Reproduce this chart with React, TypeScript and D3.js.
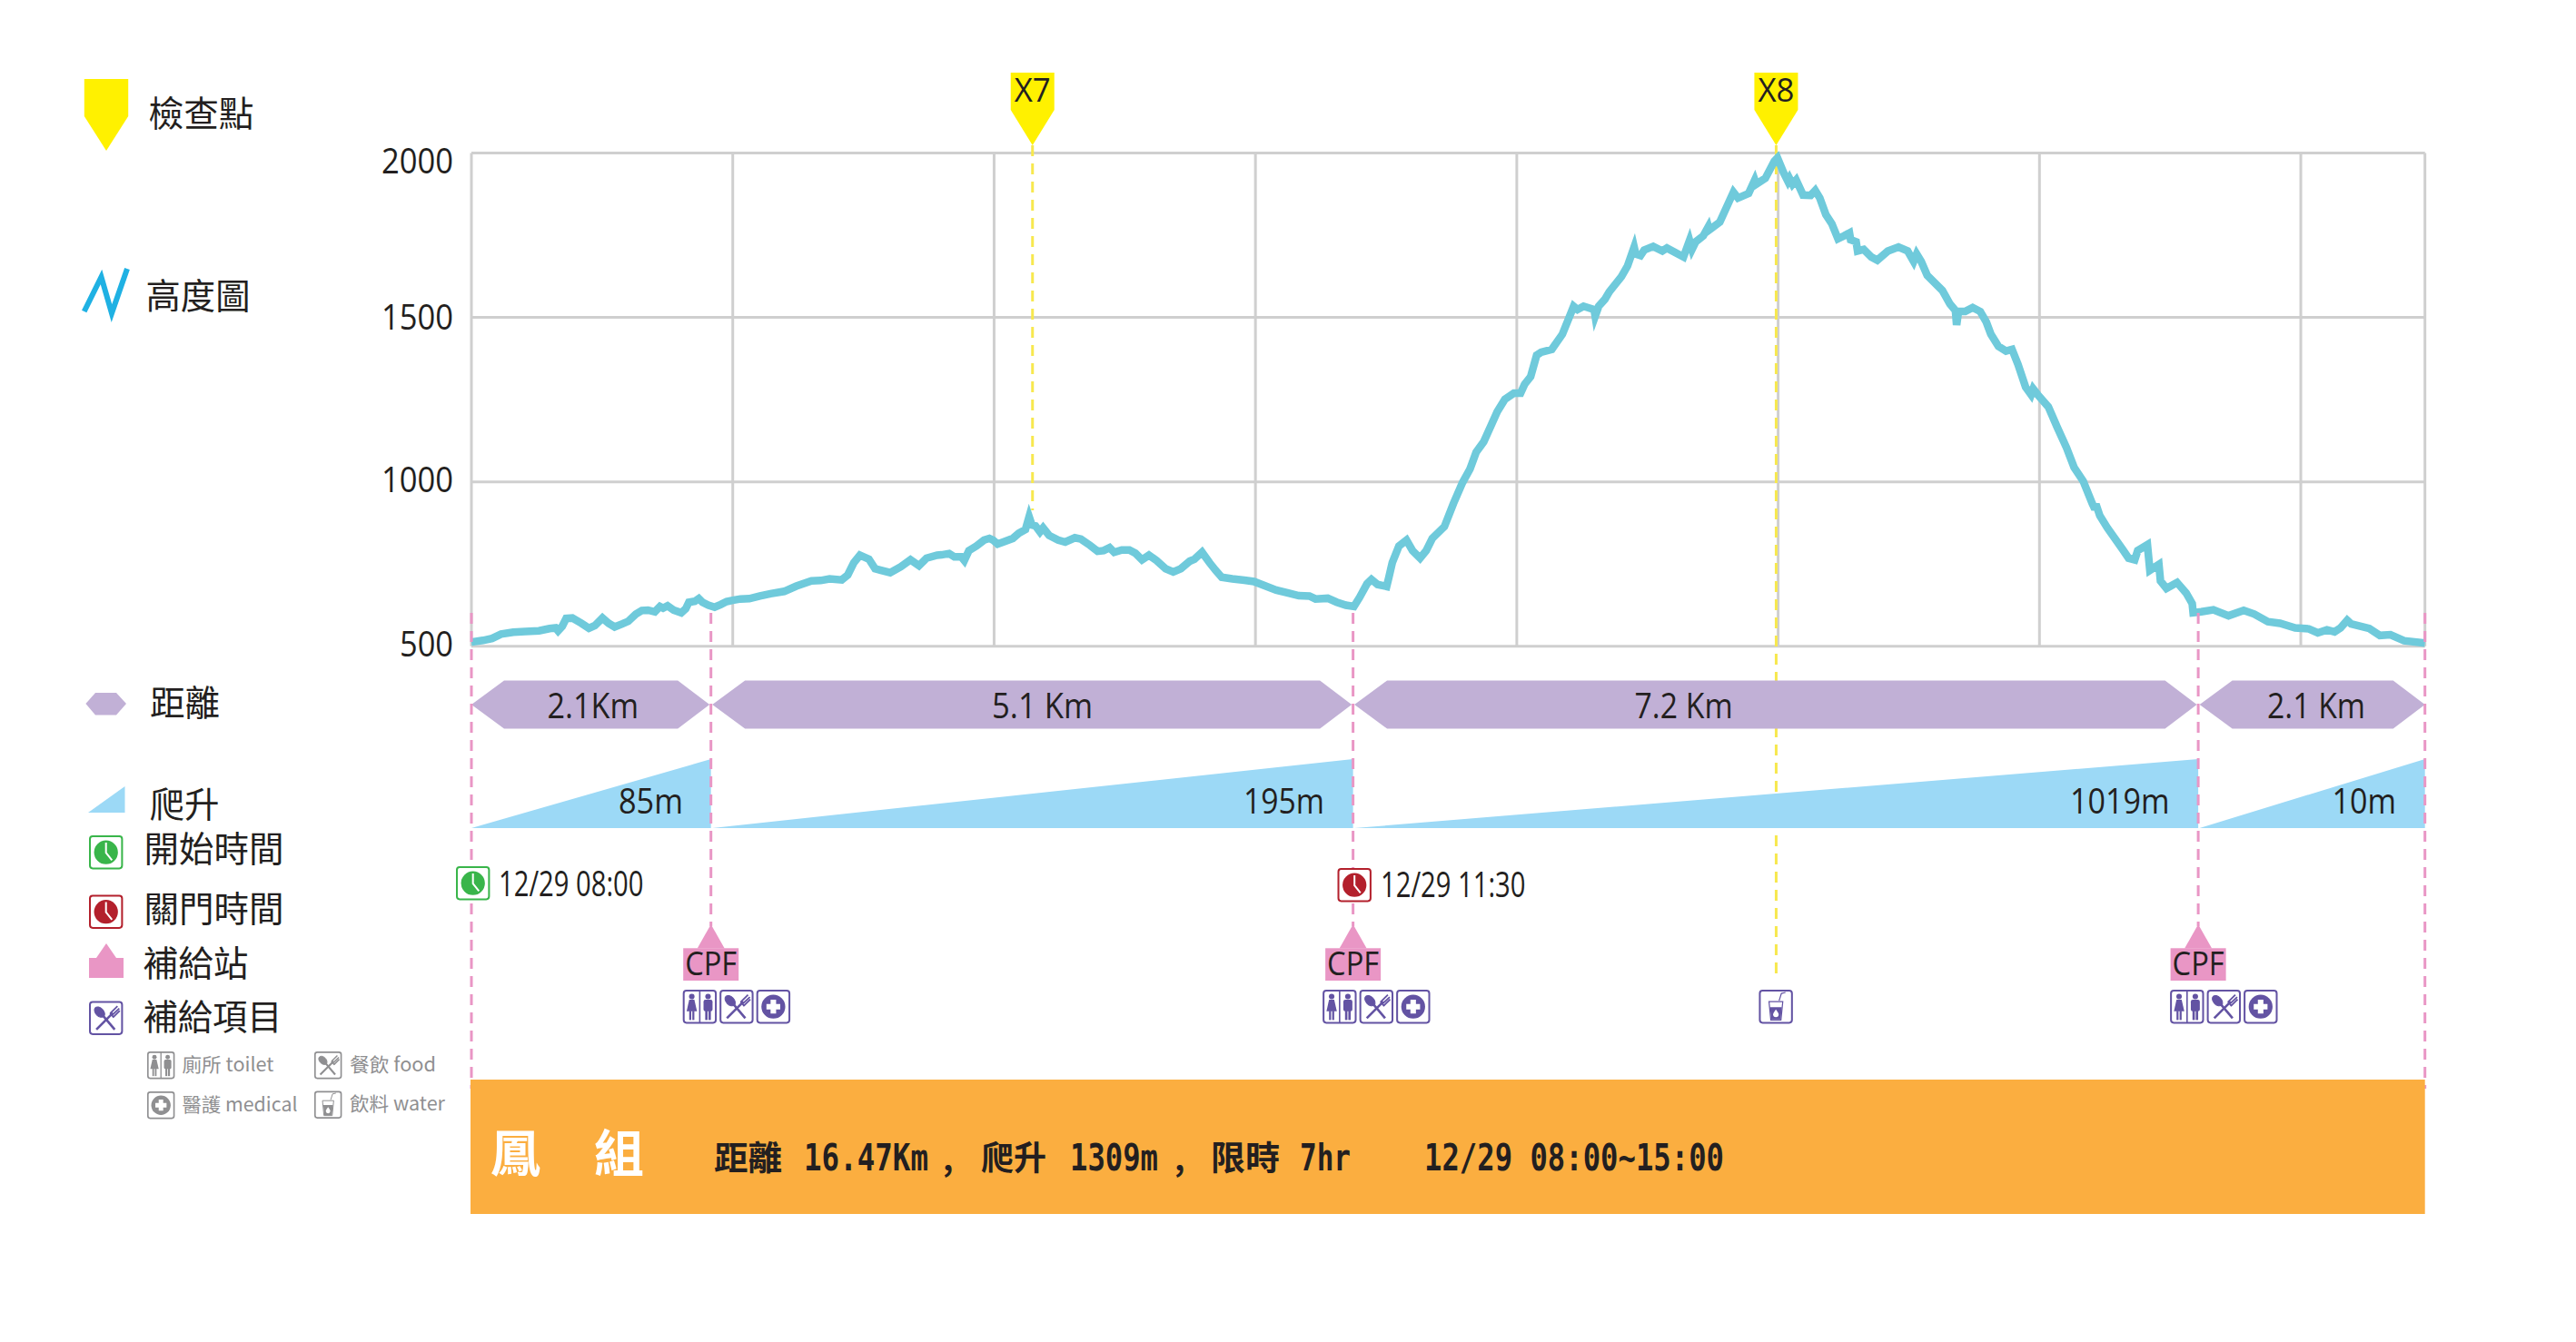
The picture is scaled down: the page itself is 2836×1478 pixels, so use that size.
import React from "react";
import * as d3 from "d3";

// ---- data ----
const profileKm = [0,.088,.158,.227,.32,.412,.517,.598,.644,.663,.695,.725,.772,.841,.899,.945,1.003,1.05,1.096,1.154,1.2,1.258,1.304,1.351,1.404,1.443,1.467,1.501,1.548,1.606,1.64,1.664,1.71,1.74,1.768,1.814,1.861,1.907,1.953,2,2.058,2.127,2.208,2.289,2.394,2.486,2.602,2.672,2.741,2.834,2.88,2.926,2.973,3.042,3.089,3.135,3.205,3.286,3.36,3.425,3.483,3.564,
3.598,3.656,3.696,3.749,3.772,3.807,3.865,3.923,3.964,3.992,4.027,4.097,4.143,4.189,4.24,4.268,4.289,4.317,4.351,4.375,4.421,4.49,4.544,4.618,4.664,4.734,4.792,4.838,4.884,4.919,4.977,5.035,5.081,5.132,5.185,5.243,5.313,5.371,5.429,5.498,5.533,5.591,5.649,5.695,5.742,5.823,5.915,5.989,6.066,6.159,6.251,6.332,6.413,6.46,6.553,6.622,6.692,6.754,6.796,6.854,6.888,6.935,7.004,7.02,
7.047,7.098,7.156,7.202,7.26,7.307,7.353,7.446,7.515,7.585,7.642,7.689,7.747,7.851,7.909,7.978,8.029,8.06,8.106,8.152,8.187,8.268,8.349,8.419,8.435,8.465,8.511,8.592,8.6,8.627,8.674,8.708,8.801,8.847,8.898,8.91,8.947,8.975,9.044,9.114,9.149,9.276,9.322,9.341,9.369,9.427,9.466,9.473,9.554,9.658,9.693,9.774,9.821,9.832,9.902,9.971,9.995,
10.041,10.075,10.087,10.11,10.138,10.191,10.249,10.284,10.319,10.365,10.411,10.458,10.504,10.546,10.555,10.597,10.608,10.655,10.713,10.759,10.84,10.921,10.991,11.037,11.06,11.095,11.141,11.257,11.315,11.357,11.366,11.38,11.431,11.489,11.547,11.593,11.628,11.686,11.744,11.79,11.836,11.894,11.936,11.952,11.987,12.068,12.138,12.207,12.265,12.335,12.404,
12.416,12.439,12.462,12.52,12.636,12.682,12.729,12.752,12.826,12.835,12.845,12.914,12.926,12.972,13.053,13.123,13.169,13.176,13.238,13.331,13.447,13.563,13.644,13.748,13.841,13.957,14.061,14.13,14.2,14.258,14.304,14.355,14.385,14.524,14.605,14.686,14.79,14.95];
const profileElevation = [513,518,524,537,543,545,547,554,556,547,561,585,586,570,555,563,586,570,559,568,576,598,609,610,605,621,616,623,610,602,614,634,637,645,634,625,619,627,636,640,644,645,653,660,667,683,699,700,705,702,717,754,777,765,736,731,724,742,763,745,768,777,
778,782,772,772,761,791,805,823,828,823,811,821,828,844,855,894,869,866,848,860,837,823,817,830,826,807,789,791,800,786,793,793,783,763,777,761,736,726,736,759,765,786,754,731,710,705,701,697,685,671,662,654,653,644,646,634,625,621,648,690,703,688,682,708,
754,805,823,791,768,791,828,864,934,998,1039,1090,1122,1214,1251,1270,1270,1297,1320,1385,1394,1403,1449,1518,1534,1524,1534,1524,1504,1534,1555,1578,1624,1656,1714,1693,1688,1705,1716,1702,1711,1684,1734,1707,1730,1748,1776,1766,1790,1881,1863,1877,1918,1905,1923,1975,1985,
1941,1914,1923,1905,1918,1872,1871,1886,1863,1813,1785,1739,1748,1757,1736,1730,1702,1707,1684,1674,1702,1714,1702,1670,1693,1670,1628,1582,1541,1521,1477,1518,1518,1530,1518,1486,1449,1412,1398,1403,1357,1288,1265,1283,1265,1228,1164,1104,1044,1002,934,
924,924,897,860,795,768,763,791,809,772,731,749,699,676,694,662,630,602,605,611,593,609,598,575,570,556,553,541,550,544,556,579,568,554,533,535,517,510];
const elevationTicks = [2000, 1500, 1000, 500];
const gridKm = [2, 4, 6, 8, 10, 12, 14];
const stationKm = [0, 1.833, 6.747, 13.215, 14.95];
const distanceLabels = ["2.1Km", "5.1 Km", "7.2 Km", "2.1 Km"];
const climbLabels = ["85m", "195m", "1019m", "10m"];
const checkpoints = [{ name: "X7", km: 4.294 }, { name: "X8", km: 9.985 }];
const supplyKm = [1.833, 6.747, 13.215];
const waterKm = 9.985;
const startLabel = "12/29 08:00";
const closeLabel = "12/29 11:30";

const x = d3.scaleLinear().domain([0, 14.95]).range([519, 2669.7]);
const y = d3.scaleLinear().domain([500, 2000]).range([711.8, 168.5]);

const C = {
  ink: "#231f20", grid: "#cfcfcf", line: "#6fcadb", pink: "#e996c5", yellow: "#fff100", dashY: "#f7e84e",
  purple: "#c1b0d6", blue: "#9cd9f6", orange: "#fbae40", green: "#39b54a", red: "#b3202c", violet: "#6353a3", gray: "#8f8f91",
};
const CJK = "'Noto Sans CJK TC', sans-serif";
const LAT = "'Open Sans', 'Noto Sans', sans-serif";
const MONO = "'DejaVu Sans Mono', monospace";

function T({ x: tx, y: ty, w, size = 39, fill = C.ink, family = LAT, weight = 400, children, anchor = "start" }: any) {
  return (
    <text x={tx} y={ty} fontSize={size} fill={fill} fontFamily={family} fontWeight={weight} textAnchor={anchor}
      textLength={w} lengthAdjust={w ? "spacingAndGlyphs" : undefined}>
      {children}
    </text>
  );
}

// condensed monospaced run: squeezed to width w with a horizontal scale
function M({ x: tx, y: ty, w, size = 41, children }: any) {
  const natural = String(children).length * 0.602 * size;
  return (
    <text transform={`translate(${tx},${ty}) scale(${w / natural},1)`} fontSize={size} fill={C.ink} fontFamily={MONO} fontWeight={700}>
      {children}
    </text>
  );
}

function Glyph({ kind, color }: any) {
  if (kind === "clock")
    return (<g><circle cx={18.5} cy={18.5} r={13} fill={color} />
      <path d="M18.5 8 V19 L25 27" fill="none" stroke="#fff" strokeWidth={2} /></g>);
  if (kind === "toilet")
    return (<g fill={color}>
      <line x1={18.5} y1={1} x2={18.5} y2={36} stroke={color} strokeWidth={1.6} />
      <circle cx={9.8} cy={7.5} r={3} />
      <path d="M7 11 H12.6 L15.5 23.5 H4.2 Z" />
      <rect x={7} y={23} width={2.2} height={10} /><rect x={10.4} y={23} width={2.2} height={10} />
      <circle cx={27.5} cy={7.5} r={3} />
      <rect x={22.6} y={11} width={9.8} height={12.5} rx={2} />
      <rect x={24.4} y={22} width={2.6} height={11} /><rect x={28} y={22} width={2.6} height={11} />
    </g>);
  if (kind === "food")
    return (<g fill={color} stroke={color}>
      <ellipse cx={11.5} cy={12} rx={4.4} ry={6.6} transform="rotate(-45 11.5 12)" />
      <line x1={14} y1={14.5} x2={28} y2={31} strokeWidth={2.6} />
      <line x1={8} y1={31} x2={26} y2={13} strokeWidth={2.6} />
      <path d="M23 13.5 L31 5.5 M25 15.5 L33 8 M26.5 17.5 L33.5 10.5 M23 13 L27 18" strokeWidth={1.8} fill="none" />
    </g>);
  if (kind === "medical")
    return (<g><circle cx={18.5} cy={18.5} r={13} fill={color} />
      <path d="M15.5 11 H21.5 V15.5 H26 V21.5 H21.5 V26 H15.5 V21.5 H11 V15.5 H15.5 Z" fill="#fff" /></g>);
  return (<g>
    <path d="M11 13 H26 L24 33 H13 Z" fill="none" stroke={color} strokeWidth={1.2} />
    <path d="M12 19 H25 L23.6 32.5 H13.4 Z" fill={color} />
    <path d="M22 12 L24.5 4 L29 3" fill="none" stroke={color} strokeWidth={1.2} />
    <path d="M18.5 21.5 C21 25 21.5 26 21.5 27 A3 3 0 0 1 15.5 27 C15.5 26 16 25 18.5 21.5 Z" fill="#fff" />
  </g>);
}

function Icon({ kind, x: ix, y: iy, s = 37.4, color = C.violet }: any) {
  return (
    <g transform={`translate(${ix},${iy}) scale(${s / 37})`}>
      <rect x={1} y={1} width={35} height={35} rx={3} fill="#fff" stroke={color} strokeWidth={2} />
      <Glyph kind={kind} color={color} />
    </g>
  );
}

const flagPath = (cx: number, top: number, sh: number, tip: number, hw: number) =>
  `M${cx - hw} ${top} H${cx + hw} V${sh} L${cx} ${tip} L${cx - hw} ${sh} Z`;

export default function App() {
  const line = d3.line<number>().x((k) => x(k)).y((_, i) => y(profileElevation[i]));
  const tickShift = (v: number) => (v === 2000 ? 22 : v === 1500 ? 13 : 11.5);
  const xs = stationKm.map((k) => x(k));
  const iconShift = [-31, -33.5, -31];
  return (
    <svg width={2836} height={1478} viewBox="0 0 2836 1478" style={{ position: "absolute", left: 0, top: 0, display: "block", background: "#fff" }}>
      {/* grid */}
      <g stroke={C.grid} strokeWidth={3} fill="none">
        {elevationTicks.map((v) => <line key={v} x1={x(0)} x2={x(14.95)} y1={y(v)} y2={y(v)} />)}
        {[0, ...gridKm, 14.95].map((k) => <line key={k} x1={x(k)} x2={x(k)} y1={y(2000)} y2={y(500)} />)}
      </g>
      {elevationTicks.map((v) => (
        <T key={v} x={499} y={y(v) + tickShift(v)} anchor="end" w={v === 500 ? 59 : 79}>{v}</T>
      ))}

      {/* checkpoint dashes sit behind the bands */}
      <line x1={x(checkpoints[0].km)} x2={x(checkpoints[0].km)} y1={160} y2={562} stroke={C.dashY} strokeWidth={3} strokeDasharray="12 8" />
      <line x1={x(checkpoints[1].km)} x2={x(checkpoints[1].km)} y1={160} y2={1080} stroke={C.dashY} strokeWidth={3} strokeDasharray="12 8" />

      {/* elevation */}
      <path d={line(profileKm) as string} fill="none" stroke={C.line} strokeWidth={8.5} strokeLinejoin="miter" strokeMiterlimit={5} />

      {/* distance bands */}
      {distanceLabels.map((_, i) => {
        const a = xs[i] + (i ? 1.5 : 0), b = xs[i + 1] - (i < 3 ? 1.5 : 0);
        return <path key={i} fill={C.purple} d={`M${a} 776 L${a + 36} 749.5 H${b - 35} L${b} 776 L${b - 35} 802.5 H${a + 36} Z`} />;
      })}
      <T x={602.5} y={790.5} w={100.5}>{distanceLabels[0]}</T>
      <T x={1092} y={790.5} w={111}>{distanceLabels[1]}</T>
      <T x={1799.6} y={790.5} w={108}>{distanceLabels[2]}</T>
      <T x={2496} y={790.5} w={108}>{distanceLabels[3]}</T>

      {/* climb wedges */}
      {climbLabels.map((_, i) => {
        const a = xs[i] + (i ? 1.5 : 0), b = xs[i + 1];
        return <path key={i} fill={C.blue} d={`M${a} 912 L${b} 836 V912 Z`} />;
      })}
      <T x={681} y={896} w={71}>{climbLabels[0]}</T>
      <T x={1369} y={896} w={89}>{climbLabels[1]}</T>
      <T x={2279} y={896} w={109.5}>{climbLabels[2]}</T>
      <T x={2567.5} y={896} w={70.5}>{climbLabels[3]}</T>

      {/* station dashes */}
      <g stroke={C.pink} strokeWidth={3} strokeDasharray="12 8" fill="none">
        <line x1={xs[0]} x2={xs[0]} y1={675} y2={1199} />
        <line x1={xs[1]} x2={xs[1]} y1={675} y2={1020} />
        <line x1={xs[2]} x2={xs[2]} y1={675} y2={1020} />
        <line x1={xs[3]} x2={xs[3]} y1={675} y2={1020} />
        <line x1={xs[4]} x2={xs[4]} y1={675} y2={1199} />
      </g>

      {/* checkpoints */}
      {checkpoints.map((c) => (
        <g key={c.name}>
          <path d={flagPath(x(c.km), 80, 121, 160, 24)} fill={C.yellow} />
          <T x={x(c.km)} y={112} size={37} anchor="middle" w={40}>{c.name}</T>
        </g>
      ))}

      {/* times */}
      <Icon kind="clock" x={502} y={954} color={C.green} />
      <T x={549} y={987} size={38} w={159.5}>{startLabel}</T>
      <Icon kind="clock" x={1472.5} y={956} color={C.red} />
      <T x={1520} y={988} size={38} w={159.5}>{closeLabel}</T>

      {/* supply stations */}
      {supplyKm.map((k, i) => {
        const cx = x(k);
        return (
          <g key={k}>
            <path d={`M${cx} 1018 L${cx + 15} 1044.5 H${cx - 15} Z`} fill={C.pink} />
            <rect x={cx - 30.5} y={1044.3} width={61} height={35.7} fill={C.pink} />
            <T x={cx} y={1074} size={37} anchor="middle" w={57}>CPF</T>
            <Icon kind="toilet" x={cx + iconShift[i]} y={1090} />
            <Icon kind="food" x={cx + iconShift[i] + 40.5} y={1090} />
            <Icon kind="medical" x={cx + iconShift[i] + 81} y={1090} />
          </g>
        );
      })}
      <Icon kind="water" x={x(waterKm) - 19} y={1090} />

      {/* footer band */}
      <rect x={x(0) - 1} y={1189} width={x(14.95) - x(0) + 1} height={148} fill={C.orange} />
      <T x={540} y={1290} size={55} fill="#fff" family={CJK} weight={700}>鳳</T>
      <T x={654} y={1290} size={55} fill="#fff" family={CJK} weight={700}>組</T>
      <T x={786} y={1289} size={37} family={CJK} weight={700} w={75}>距離</T>
      <M x={885} y={1289} w={137}>16.47Km</M>
      <T x={1038} y={1289} size={35} family={CJK} weight={700}>,</T>
      <T x={1080} y={1289} size={37} family={CJK} weight={700} w={72}>爬升</T>
      <M x={1178} y={1289} w={97}>1309m</M>
      <T x={1293} y={1289} size={35} family={CJK} weight={700}>,</T>
      <T x={1333} y={1289} size={37} family={CJK} weight={700} w={76}>限時</T>
      <M x={1431} y={1289} w={56}>7hr</M>
      <M x={1568} y={1289} w={330}>12/29 08:00~15:00</M>

      {/* legend */}
      <path d={flagPath(117, 87, 128, 166, 24.2)} fill={C.yellow} />
      <T x={163.5} y={139} size={38.5} family={CJK} w={116}>檢查點</T>
      <path d="M92.7 343 L111.5 305 L123 345 L140 296" fill="none" stroke="#1fb1e3" strokeWidth={6} strokeMiterlimit={8} />
      <T x={160.5} y={340} size={38.5} family={CJK} w={115}>高度圖</T>

      <path d="M94.4 775 L105 763 H128 L139 775 L128 787.5 H105 Z" fill={C.purple} />
      <T x={165} y={788} size={38.5} family={CJK} w={77}>距離</T>
      <path d="M97 895 L137.5 866 V895 Z" fill={C.blue} />
      <T x={164.5} y={900} size={38.5} family={CJK} w={77}>爬升</T>

      <Icon kind="clock" x={98} y={920} color={C.green} />
      <T x={158.5} y={949} size={38.5} family={CJK} w={154}>開始時間</T>
      <Icon kind="clock" x={98} y={985.5} color={C.red} />
      <T x={158.5} y={1015} size={38.5} family={CJK} w={154}>關門時間</T>
      <path d="M117 1039 L128 1055 H136 V1077 H98 V1055 H106 Z" fill={C.pink} />
      <T x={157.5} y={1075} size={38.5} family={CJK} w={116}>補給站</T>
      <Icon kind="food" x={98} y={1102.5} />
      <T x={157.5} y={1134} size={38.5} family={CJK} w={153}>補給項目</T>

      <Icon kind="toilet" x={162} y={1158} s={30.4} color={C.gray} />
      <T x={200.5} y={1180} size={21} fill={C.gray} family={CJK} w={101}>廁所 toilet</T>
      <Icon kind="food" x={346} y={1158} s={30.4} color={C.gray} />
      <T x={385} y={1180} size={21} fill={C.gray} family={CJK} w={95}>餐飲 food</T>
      <Icon kind="medical" x={162} y={1202} s={30.4} color={C.gray} />
      <T x={200.5} y={1224} size={21} fill={C.gray} family={CJK} w={127}>醫護 medical</T>
      <Icon kind="water" x={346} y={1201.5} s={30.4} color={C.gray} />
      <T x={385} y={1223} size={21} fill={C.gray} family={CJK} w={105}>飲料 water</T>
    </svg>
  );
}
